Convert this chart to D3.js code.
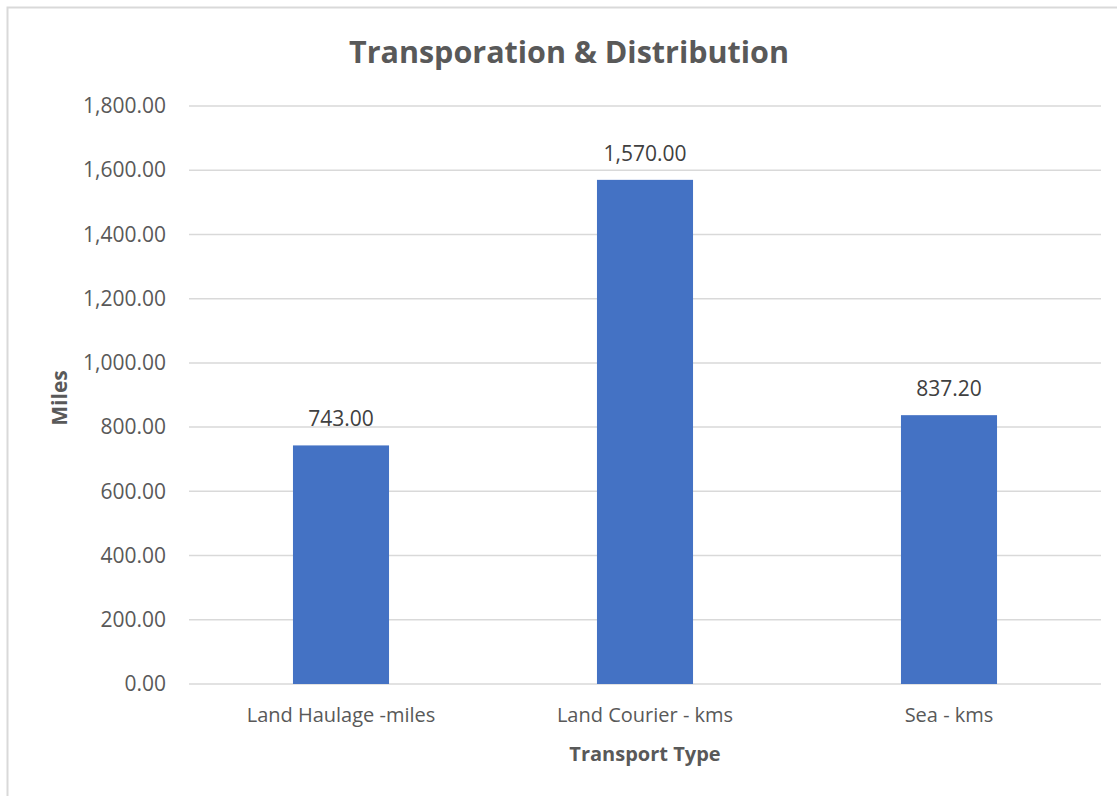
<!DOCTYPE html>
<html><head><meta charset="utf-8">
<script src="https://cdn.jsdelivr.net/npm/d3@7"></script>
<style>body{margin:0;background:#fff}svg{display:block}text{font-family:"Open Sans",sans-serif}</style>
</head><body>
<svg id="c" width="1117" height="796"></svg>
<script>
const categories = ["Land Haulage -miles", "Land Courier - kms", "Sea - kms"];
const values = [743.00, 1570.00, 837.20];
const yTicks = [0, 200, 400, 600, 800, 1000, 1200, 1400, 1600, 1800];
const chartTitle = "Transporation & Distribution";
const xTitle = "Transport Type";
const yTitle = "Miles";

const svg = d3.select("#c");
const m = {left: 189, right: 1101, top: 106, bottom: 684};
const x = d3.scaleBand().domain(categories).range([m.left, m.right]).paddingInner(0.684).paddingOuter(0.342);
const y = d3.scaleLinear().domain([0, 1800]).range([m.bottom, m.top]);
const fmt = d3.format(",.2f");
const txt = "#595959";

// chart border (top & left visible)
svg.append("path").attr("d", "M7.5,796 V7.5 H1117").attr("fill", "none").attr("stroke", "#d9d9d9").attr("stroke-width", 2);

// gridlines
svg.append("g").selectAll("line").data(yTicks).join("line")
  .attr("x1", m.left).attr("x2", m.right)
  .attr("y1", d => y(d)).attr("y2", d => y(d))
  .attr("stroke", "#d9d9d9").attr("stroke-width", 1.5);

// y axis labels
const ya = svg.append("g").attr("transform", `translate(${m.left},0)`)
  .call(d3.axisLeft(y).tickValues(yTicks).tickFormat(fmt).tickSize(0).tickPadding(23));
ya.select(".domain").remove();
ya.selectAll("text").attr("fill", txt).style("font-size", "21px").style("font-family", "'Open Sans',sans-serif");

// bars
svg.append("g").selectAll("rect").data(values).join("rect")
  .attr("x", (d, i) => x(categories[i]))
  .attr("width", x.bandwidth())
  .attr("y", d => y(d))
  .attr("height", d => y(0) - y(d))
  .attr("fill", "#4472C4");

// data labels
svg.append("g").selectAll("text").data(values).join("text")
  .attr("x", (d, i) => x(categories[i]) + x.bandwidth() / 2)
  .attr("y", d => y(d) - 19)
  .attr("text-anchor", "middle").attr("fill", "#404040")
  .style("font-size", "21px").text(d => fmt(d));

// x axis
const xa = svg.append("g").attr("transform", `translate(0,${m.bottom})`)
  .call(d3.axisBottom(x).tickSize(0).tickPadding(24));
xa.select(".domain").remove();
xa.selectAll("text").attr("fill", txt).style("font-size", "20px").style("font-family", "'Open Sans',sans-serif");

// titles
svg.append("text").attr("x", 569).attr("y", 63).attr("text-anchor", "middle")
  .attr("fill", txt).style("font-size", "30.5px").style("font-weight", "bold").text(chartTitle);
svg.append("text").attr("x", (m.left + m.right) / 2).attr("y", 761).attr("text-anchor", "middle")
  .attr("fill", txt).style("font-size", "20px").style("font-weight", "bold").text(xTitle);
svg.append("text").attr("transform", `translate(67,${(m.top + m.bottom) / 2 + 3}) rotate(-90)`).attr("text-anchor", "middle")
  .attr("fill", txt).style("font-size", "21px").style("font-weight", "bold").text(yTitle);
</script>
</body></html>
